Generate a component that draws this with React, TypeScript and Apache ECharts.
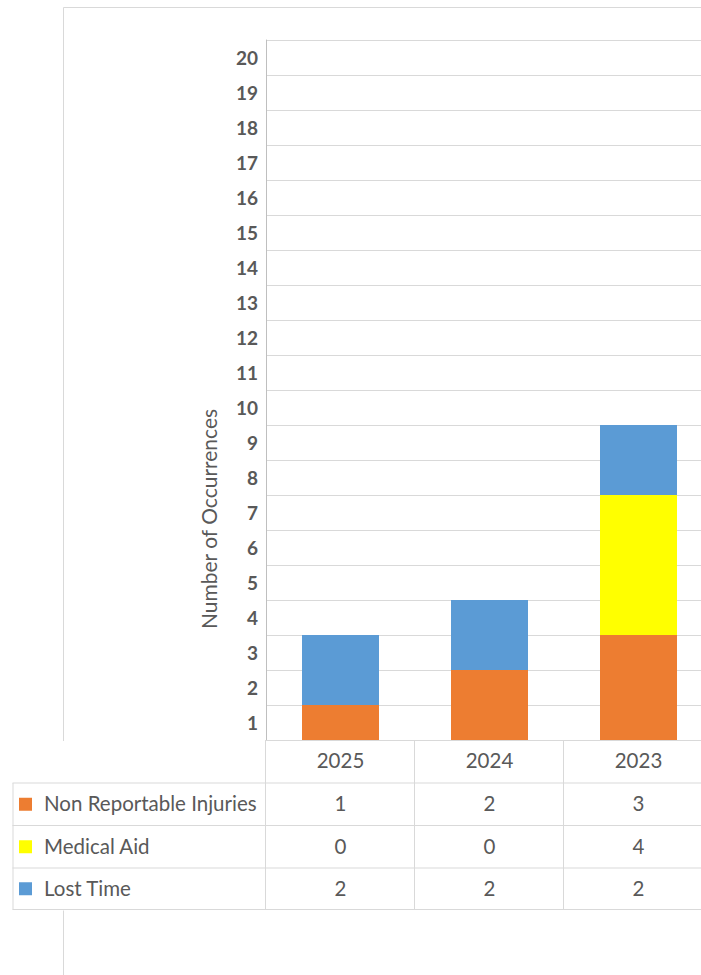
import React, { useEffect, useRef } from 'react';
import * as echarts from 'echarts';

const years = ['2025', '2024', '2023'];
const seriesNames = ['Non Reportable Injuries', 'Medical Aid', 'Lost Time'];
const nonReportable = [1, 2, 3];
const medicalAid = [0, 0, 4];
const lostTime = [2, 2, 2];
const seriesColors = ['#ED7D31', '#FFFF00', '#5B9BD5'];
const yTickLabels = ['1', '2', '3', '4', '5', '6', '7', '8', '9', '10', '11', '12', '13', '14', '15', '16', '17', '18', '19', '20'];
const yAxisTitle = 'Number of Occurrences';

const FONT = 'Lato, "Noto Sans", sans-serif';
const TEXT = '#595959';
const LINE = '#d9d9d9';

export default function App() {
  const ref = useRef<HTMLDivElement>(null);
  useEffect(() => {
    if (!ref.current) return;
    const chart = echarts.init(ref.current, undefined, { renderer: 'svg' });
    const gridLeft = 266;
    const gridTop = 40;
    const gridW = 447;
    const gridH = 700;
    const colW = gridW / years.length;
    const bottom = gridTop + gridH;
    const rowLines = [783, 825.5, 868, 909.5];
    const seriesData = [nonReportable, medicalAid, lostTime];

    const graphic: any[] = [];
    // outer chart border
    graphic.push({
      type: 'rect', z: 0, silent: true,
      shape: { x: 63.5, y: 7.5, width: 900, height: 1100 },
      style: { fill: 'none', stroke: LINE, lineWidth: 1 },
    });
    // axis title
    graphic.push({
      type: 'text', z: 5, x: 208, y: 519, rotation: Math.PI / 2,
      style: { text: yAxisTitle, x: 0, y: 0, fill: TEXT, font: `21px ${FONT}`, textAlign: 'center', textVerticalAlign: 'middle' },
    });
    // table background
    graphic.push({
      type: 'rect', z: 8, silent: true,
      shape: { x: 10, y: bottom + 1, width: 800, height: rowLines[3] - bottom },
      style: { fill: '#ffffff' },
    });
    // horizontal table lines
    rowLines.forEach((y) => {
      graphic.push({
        type: 'line', z: 9, silent: true,
        shape: { x1: 12.5, y1: y, x2: 800, y2: y },
        style: { stroke: LINE, lineWidth: 1 },
      });
    });
    // left table border
    graphic.push({
      type: 'line', z: 9, silent: true,
      shape: { x1: 13, y1: rowLines[0], x2: 13, y2: rowLines[3] },
      style: { stroke: LINE, lineWidth: 1 },
    });
    // column lines
    for (let i = 0; i <= years.length; i++) {
      const x = Math.round(gridLeft + i * colW) - 0.5;
      graphic.push({
        type: 'line', z: 9, silent: true,
        shape: { x1: x, y1: bottom, x2: x, y2: rowLines[3] },
        style: { stroke: LINE, lineWidth: 1 },
      });
    }
    // header
    years.forEach((yr, i) => {
      graphic.push({
        type: 'text', z: 10,
        style: { text: yr, x: gridLeft + (i + 0.5) * colW, y: (bottom + rowLines[0]) / 2 - 1.5, fill: TEXT, font: `20.5px ${FONT}`, textAlign: 'center', textVerticalAlign: 'middle' },
      });
    });
    // rows
    seriesNames.forEach((name, r) => {
      const cy = (rowLines[r] + rowLines[r + 1]) / 2;
      graphic.push({
        type: 'rect', z: 10,
        shape: { x: 19, y: cy - 6.5, width: 13, height: 13 },
        style: { fill: seriesColors[r] },
      });
      graphic.push({
        type: 'text', z: 10,
        style: { text: name, x: 44, y: cy - 1, fill: TEXT, font: `20.5px ${FONT}`, textAlign: 'left', textVerticalAlign: 'middle' },
      });
      seriesData[r].forEach((v, i) => {
        graphic.push({
          type: 'text', z: 10,
          style: { text: String(v), x: gridLeft + (i + 0.5) * colW, y: cy - 1, fill: TEXT, font: `20.5px ${FONT}`, textAlign: 'center', textVerticalAlign: 'middle' },
        });
      });
    });

    chart.setOption({
      animation: false,
      backgroundColor: '#ffffff',
      grid: { left: gridLeft, top: gridTop, width: gridW, height: gridH, outerBoundsMode: 'none' },
      xAxis: {
        type: 'category',
        data: years,
        axisLine: { show: true, lineStyle: { color: LINE } },
        axisTick: { show: false },
        axisLabel: { show: false },
      },
      yAxis: [
        {
          type: 'value', min: 0, max: 20, interval: 1,
          axisLine: { show: true, lineStyle: { color: '#bfbfbf' } },
          axisTick: { show: false },
          axisLabel: { show: false },
          splitLine: { show: true, lineStyle: { color: LINE } },
        },
        {
          type: 'category', position: 'left', data: yTickLabels,
          axisLine: { show: false }, axisTick: { show: false }, splitLine: { show: false },
          axisLabel: { color: TEXT, fontWeight: 'bold', fontSize: 19, fontFamily: FONT, margin: 8 },
        },
      ],
      series: seriesNames.map((name, r) => ({
        name,
        type: 'bar',
        stack: 'total',
        barWidth: 77,
        yAxisIndex: 0,
        data: seriesData[r],
        itemStyle: { color: seriesColors[r] },
      })),
      graphic,
    });
    return () => chart.dispose();
  }, []);
  return (
    <div style={{ position: 'absolute', left: 0, top: 0, width: 701, height: 975, overflow: 'hidden' }}>
      <div ref={ref} style={{ width: 740, height: 975 }} />
    </div>
  );
}
